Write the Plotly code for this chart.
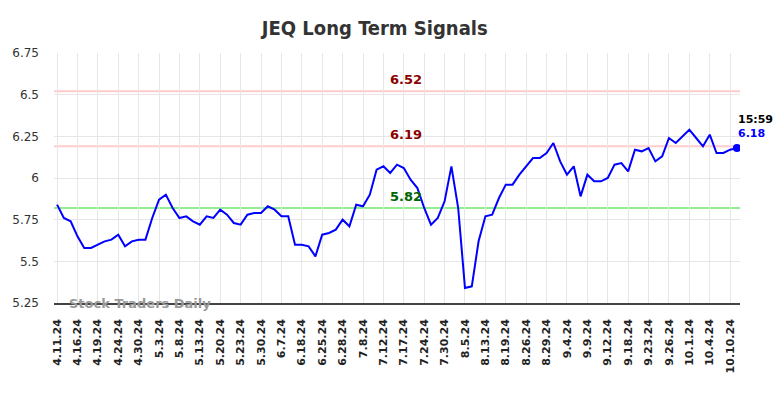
import plotly.graph_objects as go

values = [5.84, 5.76, 5.74, 5.65, 5.58, 5.58, 5.60, 5.62, 5.63, 5.66,
          5.59, 5.62, 5.63, 5.63, 5.76, 5.87, 5.90, 5.82, 5.76, 5.77,
          5.74, 5.72, 5.77, 5.76, 5.81, 5.78, 5.73, 5.72, 5.78, 5.79,
          5.79, 5.83, 5.81, 5.77, 5.77, 5.60, 5.60, 5.59, 5.53, 5.66,
          5.67, 5.69, 5.75, 5.71, 5.84, 5.83, 5.90, 6.05, 6.07, 6.03,
          6.08, 6.06, 5.99, 5.94, 5.82, 5.72, 5.76, 5.86, 6.07, 5.82,
          5.34, 5.35, 5.62, 5.77, 5.78, 5.88, 5.96, 5.96, 6.02, 6.07,
          6.12, 6.12, 6.15, 6.21, 6.10, 6.02, 6.07, 5.89, 6.02, 5.98,
          5.98, 6.00, 6.08, 6.09, 6.04, 6.17, 6.16, 6.18, 6.10, 6.13,
          6.24, 6.21, 6.25, 6.29, 6.24, 6.19, 6.26, 6.15, 6.15, 6.17,
          6.18]

tick_labels = ["4.11.24", "4.16.24", "4.19.24", "4.24.24", "4.30.24", "5.3.24",
               "5.8.24", "5.13.24", "5.20.24", "5.23.24", "5.30.24", "6.7.24",
               "6.18.24", "6.25.24", "6.28.24", "7.8.24", "7.12.24", "7.17.24",
               "7.24.24", "7.30.24", "8.5.24", "8.13.24", "8.19.24", "8.26.24",
               "8.29.24", "9.4.24", "9.9.24", "9.12.24", "9.18.24", "9.23.24",
               "9.26.24", "10.1.24", "10.4.24", "10.10.24"]
tick_step = 3

upper_levels = [6.52, 6.19]
lower_level = 5.82
last_time = "15:59"

x_idx = list(range(len(values)))
tick_pos = [i * tick_step for i in range(len(tick_labels))]

fig = go.Figure()
fig.add_trace(go.Scatter(x=x_idx, y=values, mode="lines",
                         line=dict(color="#0000ff", width=2), hoverinfo="skip",
                         showlegend=False))
fig.add_trace(go.Scatter(x=[x_idx[-1]], y=[values[-1]], mode="markers",
                         marker=dict(color="#0000ff", size=8), showlegend=False))

label_x = 51.3
for lv in upper_levels:
    fig.add_hline(y=lv, line=dict(color="#ffcccc", width=2), layer="below")
    fig.add_annotation(x=label_x, y=lv, text=f"<b>{lv:.2f}</b>", showarrow=False,
                       yshift=12, font=dict(color="#8b0000", size=13,
                                            family="DejaVu Sans"))
fig.add_hline(y=lower_level, line=dict(color="#90ee90", width=2), layer="below")
fig.add_annotation(x=label_x, y=lower_level, text=f"<b>{lower_level:.2f}</b>",
                   showarrow=False, yshift=12,
                   font=dict(color="#006400", size=13, family="DejaVu Sans"))

fig.add_annotation(x=x_idx[-1], y=values[-1], text=f"<b>{last_time}</b>",
                   showarrow=False, xanchor="left", xshift=-1, yshift=29,
                   font=dict(color="#000000", size=11, family="DejaVu Sans"))
fig.add_annotation(x=x_idx[-1], y=values[-1], text=f"<b>{values[-1]:.2f}</b>",
                   showarrow=False, xanchor="left", xshift=-1, yshift=15,
                   font=dict(color="#0000ff", size=11, family="DejaVu Sans"))

fig.add_annotation(xref="paper", yref="paper", x=0.019, y=0.0, text="<b>Stock Traders Daily</b>",
                   showarrow=False, xanchor="left", yanchor="middle",
                   font=dict(color="#999999", size=13, family="DejaVu Sans"))

fig.update_layout(
    width=784, height=398,
    margin=dict(l=52, r=44, t=53, b=95),
    paper_bgcolor="white", plot_bgcolor="white",
    title=dict(text="<b>JEQ Long Term Signals</b>", x=0.478, xanchor="center",
               y=0.93, yanchor="middle",
               font=dict(size=20, color="#333333", family="DejaVu Sans Condensed, DejaVu Sans")),
    xaxis=dict(range=[-0.45, 100.45], tickmode="array", tickvals=tick_pos,
               ticktext=[f"<b>{t}</b>" for t in tick_labels], tickangle=-90,
               showgrid=True, gridcolor="#e6e6e6", gridwidth=1,
               showline=True, linecolor="#444444", linewidth=1.5,
               zeroline=False, ticks="", ticklabelstandoff=10,
               tickfont=dict(size=11, color="#222222", family="DejaVu Sans")),
    yaxis=dict(range=[5.25, 6.75], tickmode="array",
               tickvals=[5.25, 5.5, 5.75, 6.0, 6.25, 6.5, 6.75],
               ticktext=["5.25", "5.5", "5.75", "6", "6.25", "6.5", "6.75"],
               showgrid=True, gridcolor="#e6e6e6", gridwidth=1,
               showline=False, zeroline=False, ticks="", ticklabelstandoff=14,
               tickfont=dict(size=12, color="#333333", family="DejaVu Sans")),
)

fig.write_html("out.html", config={"displayModeBar": False},
               post_script="document.body.style.margin='0';document.body.style.padding='0';")
